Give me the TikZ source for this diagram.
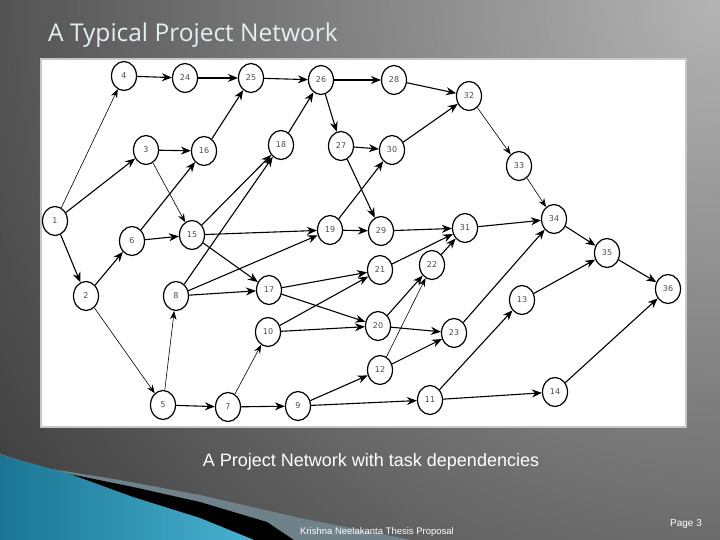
\documentclass[tikz,border=0pt]{standalone}
\usepackage{fontspec}
\setmainfont{Liberation Sans}
\newfontfamily\titlefont{Open Sans}
\newfontfamily\nodefont{DejaVu Sans}
\usetikzlibrary{shapes.geometric,arrows.meta}
\definecolor{tealA}{HTML}{1A7593}
\definecolor{tealB}{HTML}{4AB4D4}
\definecolor{stripe}{HTML}{6F8189}
\definecolor{titlecol}{HTML}{E4F0F0}
\definecolor{bgdark}{HTML}{333333}
\definecolor{bglight}{HTML}{B4B4B4}
\tikzset{
  ev/.style={ellipse, draw=black, line width=1.2pt, fill=white, minimum width=25pt, minimum height=29pt, inner sep=0pt, font=\nodefont\fontsize{8}{9}\selectfont, text=black!70},
  ed/.style={line width=1.1pt, -{Stealth[length=10pt,width=8pt]}},
  edthin/.style={line width=0.6pt, -{Stealth[length=8.5pt,width=6.5pt]}}
}
\begin{document}
\begin{tikzpicture}[x=1pt,y=-1pt]
\useasboundingbox (0,0) rectangle (720,540);
% background
\begin{scope}
\clip (0,0) rectangle (720,540);
\fill[bgdark] (0,0) rectangle (720,540);
\shade[inner color=bglight, outer color=bgdark] (720,0) circle (960);
% bottom-left decoration
\fill[stripe] (0,454) -- (45,468) -- (120,480) -- (200,495) -- (300,518) -- (432,544) -- (0,544) -- cycle;
\fill[black] (0,455) -- (50,470) -- (133,487) -- (200,502) -- (267,522) -- (300,544) -- (0,544) -- cycle;
\shade[left color=tealA, right color=tealB] (0,455) -- (67,473) -- (133,497) -- (200,518) -- (264,544) -- (0,544) -- cycle;
\end{scope}
% picture frame
\fill[black!22] (40,58) rectangle (687,428);
\fill[white] (42,60) rectangle (685,426);
% texts
\node[anchor=base west, text=titlecol, font=\titlefont\fontsize{24.5}{28}\selectfont, inner sep=0pt] (title) at (48,42) {A Typical Project Network};
\node[anchor=base, text=white, font=\fontsize{18}{20}\selectfont, inner sep=0pt] (caption) at (371,466) {A Project Network with task dependencies};
\node[anchor=base west, text=white, font=\fontsize{9.5}{11}\selectfont, inner sep=0pt] (footer) at (300,534) {Krishna Neelakanta Thesis Proposal};
\node[anchor=base west, text=white, font=\fontsize{10}{12}\selectfont, inner sep=0pt] (page) at (670,526) {Page 3};
% nodes
\node[ev] (n1) at (55,221) {1};
\node[ev] (n2) at (86,296) {2};
\node[ev] (n3) at (146,150) {3};
\node[ev] (n4) at (124,76) {4};
\node[ev] (n5) at (163,405) {5};
\node[ev] (n6) at (132,241) {6};
\node[ev] (n7) at (228,407) {7};
\node[ev] (n8) at (176,296) {8};
\node[ev] (n9) at (298,406) {9};
\node[ev] (n10) at (268,332) {10};
\node[ev] (n11) at (430,400) {11};
\node[ev] (n12) at (380,370) {12};
\node[ev] (n13) at (522,300) {13};
\node[ev] (n14) at (555,392) {14};
\node[ev] (n15) at (192,235) {15};
\node[ev] (n16) at (204,151) {16};
\node[ev] (n17) at (269,290) {17};
\node[ev] (n18) at (281,145) {18};
\node[ev] (n19) at (330,230) {19};
\node[ev] (n20) at (378,326) {20};
\node[ev] (n21) at (380,270) {21};
\node[ev] (n22) at (432,265) {22};
\node[ev] (n23) at (454,333) {23};
\node[ev] (n24) at (185,78) {24};
\node[ev] (n25) at (251,78) {25};
\node[ev] (n26) at (321,80) {26};
\node[ev] (n27) at (341,146) {27};
\node[ev] (n28) at (394,80) {28};
\node[ev] (n29) at (381,231) {29};
\node[ev] (n30) at (392,150) {30};
\node[ev] (n31) at (465,228) {31};
\node[ev] (n32) at (469,96) {32};
\node[ev] (n33) at (519,166) {33};
\node[ev] (n34) at (554,219) {34};
\node[ev] (n35) at (607,253) {35};
\node[ev] (n36) at (668,289) {36};
% edges
\draw[edthin] (n1) -- (n4);
\draw[ed] (n1) -- (n3);
\draw[ed] (n1) -- (n2);
\draw[ed] (n2) -- (n6);
\draw[edthin] (n2) -- (n5);
\draw[ed] (n3) -- (n16);
\draw[edthin] (n3) -- (n15);
\draw[ed] (n4) -- (n24);
\draw[ed] (n24) -- (n25);
\draw[ed] (n16) -- (n25);
\draw[ed] (n6) -- (n16);
\draw[ed] (n6) -- (n15);
\draw[ed] (n15) -- (n18);
\draw[ed] (n15) -- (n19);
\draw[ed] (n15) -- (n17);
\draw[ed] (n8) -- (n18);
\draw[ed] (n8) -- (n19);
\draw[ed] (n8) -- (n17);
\draw[edthin] (n5) -- (n8);
\draw[ed] (n5) -- (n7);
\draw[ed] (n7) -- (n9);
\draw[edthin] (n7) -- (n10);
\draw[ed] (n9) -- (n12);
\draw[ed] (n9) -- (n11);
\draw[ed] (n10) -- (n21);
\draw[ed] (n10) -- (n20);
\draw[ed] (n17) -- (n21);
\draw[ed] (n17) -- (n20);
\draw[edthin] (n12) -- (n22);
\draw[ed] (n12) -- (n23);
\draw[ed] (n20) -- (n22);
\draw[ed] (n20) -- (n23);
\draw[ed] (n21) -- (n31);
\draw[ed] (n22) -- (n31);
\draw[ed] (n29) -- (n31);
\draw[ed] (n19) -- (n29);
\draw[ed] (n19) -- (n30);
\draw[ed] (n27) -- (n30);
\draw[ed] (n27) -- (n29);
\draw[ed] (n25) -- (n26);
\draw[ed] (n18) -- (n26);
\draw[ed] (n26) -- (n27);
\draw[ed] (n26) -- (n28);
\draw[ed] (n28) -- (n32);
\draw[ed] (n30) -- (n32);
\draw[edthin] (n32) -- (n33);
\draw[edthin] (n33) -- (n34);
\draw[ed] (n31) -- (n34);
\draw[ed] (n23) -- (n34);
\draw[ed] (n34) -- (n35);
\draw[ed] (n13) -- (n35);
\draw[ed] (n35) -- (n36);
\draw[ed] (n11) -- (n13);
\draw[ed] (n11) -- (n14);
\draw[ed] (n14) -- (n36);
\end{tikzpicture}
\end{document}
